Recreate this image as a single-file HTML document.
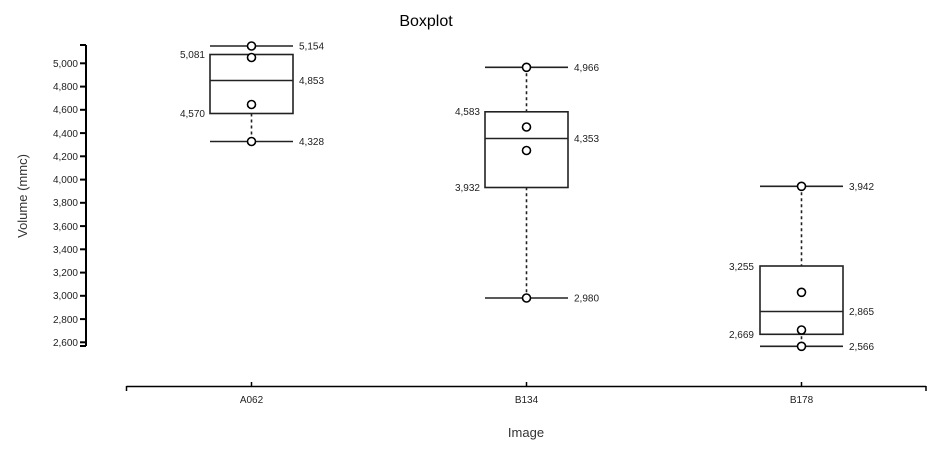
<!DOCTYPE html>
<html><head><meta charset="utf-8"><style>
html,body{margin:0;padding:0;background:#fff;}
svg{display:block;font-family:"Liberation Sans",Arial,sans-serif;}
</style></head><body>
<svg width="947" height="450" viewBox="0 0 947 450" xmlns="http://www.w3.org/2000/svg">
<text x="426" y="26" font-size="16" text-anchor="middle" fill="#000">Boxplot</text>
<text transform="translate(27,196) rotate(-90)" font-size="13" text-anchor="middle" fill="#333">Volume (mmc)</text>
<text x="526" y="437" font-size="13" text-anchor="middle" fill="#333">Image</text>
<g stroke="#000" stroke-width="2">
<line x1="86" y1="45" x2="86" y2="346"/>
<line x1="80" y1="45" x2="86" y2="45"/>
<line x1="80" y1="346" x2="86" y2="346"/>
</g>
<g stroke="#000" stroke-width="2">
<line x1="80" y1="63.3" x2="86" y2="63.3"/><line x1="80" y1="86.6" x2="86" y2="86.6"/>
<line x1="80" y1="109.8" x2="86" y2="109.8"/><line x1="80" y1="133.1" x2="86" y2="133.1"/>
<line x1="80" y1="156.3" x2="86" y2="156.3"/><line x1="80" y1="179.6" x2="86" y2="179.6"/>
<line x1="80" y1="202.8" x2="86" y2="202.8"/><line x1="80" y1="226.1" x2="86" y2="226.1"/>
<line x1="80" y1="249.3" x2="86" y2="249.3"/><line x1="80" y1="272.6" x2="86" y2="272.6"/>
<line x1="80" y1="295.8" x2="86" y2="295.8"/><line x1="80" y1="319.1" x2="86" y2="319.1"/>
<line x1="80" y1="342.3" x2="86" y2="342.3"/>
</g>
<g font-size="10" fill="#222" text-anchor="end">
<text x="78" y="67">5,000</text><text x="78" y="90">4,800</text><text x="78" y="113">4,600</text>
<text x="78" y="137">4,400</text><text x="78" y="160">4,200</text><text x="78" y="183">4,000</text>
<text x="78" y="206">3,800</text><text x="78" y="230">3,600</text><text x="78" y="253">3,400</text>
<text x="78" y="276">3,200</text><text x="78" y="299">3,000</text><text x="78" y="323">2,800</text>
<text x="78" y="346">2,600</text>
</g>
<g stroke="#000" stroke-width="1.5">
<line x1="126.5" y1="386.5" x2="926" y2="386.5"/>
<line x1="126.5" y1="386" x2="126.5" y2="391"/><line x1="926" y1="386" x2="926" y2="391"/>
<line x1="251.5" y1="382" x2="251.5" y2="386"/><line x1="526.5" y1="382" x2="526.5" y2="386"/><line x1="801.5" y1="382" x2="801.5" y2="386"/>
</g>
<g font-size="10" fill="#222" text-anchor="middle">
<text x="251.5" y="403">A062</text><text x="526.5" y="403">B134</text><text x="801.5" y="403">B178</text>
</g>
<g stroke="#222" stroke-width="1.6" fill="none">
<line x1="251.5" y1="113.5" x2="251.5" y2="141.5" stroke-dasharray="3,3"/>
<rect x="210" y="54.5" width="83" height="59" fill="#fff"/>
<line x1="210" y1="80.5" x2="293" y2="80.5"/>
<line x1="210" y1="46" x2="293" y2="46"/>
<line x1="210" y1="141.5" x2="293" y2="141.5"/>
</g>
<g stroke="#000" stroke-width="1.6" fill="#fff">
<circle cx="251.5" cy="46" r="4"/><circle cx="251.5" cy="57.5" r="4"/>
<circle cx="251.5" cy="104.5" r="4"/><circle cx="251.5" cy="141.5" r="4"/>
</g>
<g font-size="10" fill="#222">
<text x="299" y="49.5">5,154</text><text x="299" y="84">4,853</text><text x="299" y="145">4,328</text>
<text x="205" y="58" text-anchor="end">5,081</text><text x="205" y="117" text-anchor="end">4,570</text>
</g>
<g stroke="#222" stroke-width="1.6" fill="none">
<line x1="526.5" y1="67.3" x2="526.5" y2="298" stroke-dasharray="3,3"/>
<rect x="485" y="111.8" width="83" height="75.7" fill="#fff"/>
<line x1="485" y1="138.5" x2="568" y2="138.5"/>
<line x1="485" y1="67.3" x2="568" y2="67.3"/>
<line x1="485" y1="298" x2="568" y2="298"/>
</g>
<g stroke="#000" stroke-width="1.6" fill="#fff">
<circle cx="526.5" cy="67.3" r="4"/><circle cx="526.5" cy="127" r="4"/>
<circle cx="526.5" cy="150.5" r="4"/><circle cx="526.5" cy="298" r="4"/>
</g>
<g font-size="10" fill="#222">
<text x="574" y="71">4,966</text><text x="574" y="142">4,353</text><text x="574" y="301.5">2,980</text>
<text x="480" y="115" text-anchor="end">4,583</text><text x="480" y="191" text-anchor="end">3,932</text>
</g>
<g stroke="#222" stroke-width="1.6" fill="none">
<line x1="801.5" y1="186.3" x2="801.5" y2="346.3" stroke-dasharray="3,3"/>
<rect x="760" y="266" width="83" height="68.3" fill="#fff"/>
<line x1="760" y1="311.5" x2="843" y2="311.5"/>
<line x1="760" y1="186.3" x2="843" y2="186.3"/>
<line x1="760" y1="346.3" x2="843" y2="346.3"/>
</g>
<g stroke="#000" stroke-width="1.6" fill="#fff">
<circle cx="801.5" cy="186.3" r="4"/><circle cx="801.5" cy="292.3" r="4"/>
<circle cx="801.5" cy="330" r="4"/><circle cx="801.5" cy="346.3" r="4"/>
</g>
<g font-size="10" fill="#222">
<text x="849" y="190">3,942</text><text x="849" y="315">2,865</text><text x="849" y="350">2,566</text>
<text x="754" y="270" text-anchor="end">3,255</text><text x="754" y="338" text-anchor="end">2,669</text>
</g>
</svg>
</body></html>
